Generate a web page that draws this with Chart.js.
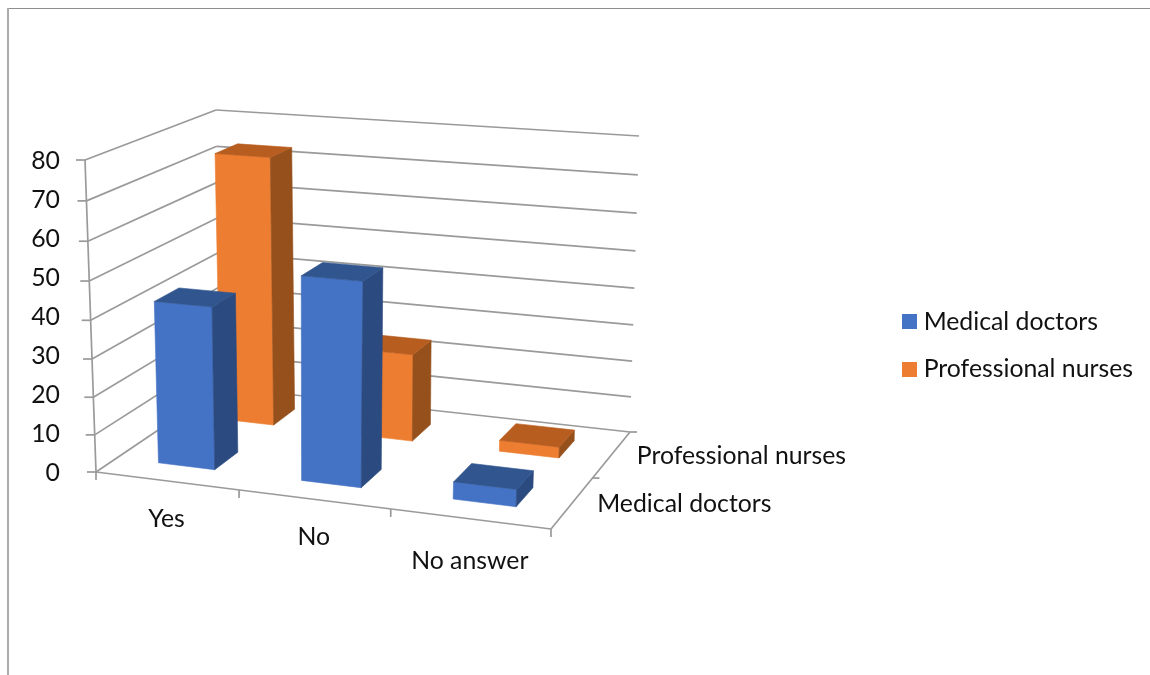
<!DOCTYPE html>
<html>
<head>
<meta charset="utf-8">
<script src="https://cdn.jsdelivr.net/npm/chart.js@4/dist/chart.umd.min.js"></script>
<style>
    html, body { margin: 0; background: #fff; }
    #wrap { width: 1150px; height: 675px; }
</style>
</head>
<body>
<div id="wrap"><canvas id="chart"></canvas></div>
<script>
//chart values
const categories = ["Yes", "No", "No answer"];
const seriesNames = ["Medical doctors", "Professional nurses"];
const doctors = [43, 53, 4.5];
const nurses = [73.5, 24, 3];
const yMax = 80;
const yStep = 10;

//colours: front, side, top
const blueFaces = ["#4472C4", "#2B4A80", "#30558F"];
const orangeFaces = ["#ED7D31", "#96501C", "#B85D20"];
const gridColor = "#9A9A9A";
const textColor = "#111111";
const fontFamily = "Lato";
const fontSize = 24.8;

//corners of the 3d box on screen, a = front left, b = front right, c = back right, d = back left
const floor = {a: [96, 472], b: [551, 529], c: [630, 432], d: [222, 387]};
const rise = {a: [-11, -312], b: [14, -333], c: [9, -296], d: [-6, -277]};
//how far the category labels sit below the floor edge
const labelDrop = [38, 38, 42];

const mix = (p, q, t) => [p[0] + (q[0] - p[0]) * t, p[1] + (q[1] - p[1]) * t];

function blend(box, u, v) {
    return mix(mix(box.a, box.b, u), mix(box.d, box.c, u), v);
}

//u along categories, v into the depth, w up the value axis (all 0 to 1)
function project(u, v, w) {
    //small bend for the perspective of the original
    const pu = u - 0.085 * u * (1 - u);
    const pv = v + 0.1 * v * (1 - v);
    const pw = w - 0.055 * w * (1 - w);
    const base = blend(floor, pu, pv);
    const up = blend(rise, pu, pv);
    return [base[0] + up[0] * pw, base[1] + up[1] * pw];
}

function poly(ctx, pts, color) {
    ctx.fillStyle = color;
    ctx.strokeStyle = color;
    ctx.lineWidth = 0.6;
    ctx.beginPath();
    pts.forEach((p, i) => i ? ctx.lineTo(p[0], p[1]) : ctx.moveTo(p[0], p[1]));
    ctx.closePath();
    ctx.fill();
    ctx.stroke();
}

function line(ctx, p, q) {
    ctx.beginPath();
    ctx.moveTo(p[0], p[1]);
    ctx.lineTo(q[0], q[1]);
    ctx.stroke();
}

function drawBar(ctx, u0, u1, v0, v1, w, faces) {
    const p = project;
    poly(ctx, [p(u0, v0, 0), p(u1, v0, 0), p(u1, v0, w), p(u0, v0, w)], faces[0]);
    poly(ctx, [p(u1, v0, 0), p(u1, v1, 0), p(u1, v1, w), p(u1, v0, w)], faces[1]);
    poly(ctx, [p(u0, v0, w), p(u1, v0, w), p(u1, v1, w), p(u0, v1, w)], faces[2]);
}

//legend square as an image, the default gap to the text is too wide
function swatch(color) {
    const c = document.createElement("canvas");
    c.width = 15;
    c.height = 15;
    const g = c.getContext("2d");
    g.fillStyle = color;
    g.fillRect(0, 0, 15, 15);
    return c;
}

//grey frame of the pasted picture
const framePlugin = {
    id: "frame",
    beforeDraw(chart) {
        const ctx = chart.ctx;
        ctx.save();
        ctx.fillStyle = "#8E8E8E";
        ctx.fillRect(7, 8, chart.width - 7, 1);
        ctx.fillStyle = "#ABABAB";
        ctx.fillRect(7, 8, 2, chart.height - 8);
        ctx.restore();
    }
};

//draws walls, floor, bars and the skewed labels through the scales
const box3dPlugin = {
    id: "box3d",
    afterLayout(chart) {
        chart.legend.top += 28;
        chart.legend.bottom += 28;
    },
    beforeDatasetsDraw(chart) {
        const ctx = chart.ctx;
        const xs = chart.scales.x;
        const ys = chart.scales.y;
        const zs = chart.scales.z;
        const uOf = px => (px - xs.left) / xs.width;
        const vOf = px => (px - zs.top) / zs.height;
        const wOf = px => (ys.bottom - px) / ys.height;
        const uStep = uOf(xs.getPixelForValue(1)) - uOf(xs.getPixelForValue(0));
        const vStep = vOf(zs.getPixelForValue(1)) - vOf(zs.getPixelForValue(0));

        ctx.save();
        ctx.strokeStyle = gridColor;
        ctx.lineWidth = 1.7;

        //walls
        ys.ticks.forEach(t => {
            const w = wOf(ys.getPixelForValue(t.value));
            const front = project(0, 0, w);
            const back = project(0, 1, w);
            line(ctx, front, back);
            line(ctx, back, project(1, 1, w));
            line(ctx, front, [front[0] - 9, front[1]]);
        });
        line(ctx, project(0, 0, 0), project(0, 0, 1));

        //floor edges and ticks
        line(ctx, project(0, 0, 0), project(1, 0, 0));
        line(ctx, project(1, 0, 0), project(1, 1, 0));
        categories.concat("").forEach((c, i) => {
            const p = project(i * uStep, 0, 0);
            line(ctx, p, [p[0], p[1] + 8]);
        });
        [1, 2].forEach(i => {
            const p = project(1, i * vStep, 0);
            line(ctx, p, [p[0] + 7, p[1]]);
        });

        //bars, back row first
        chart.data.datasets.map((d, i) => i).reverse().forEach(di => {
            const meta = chart.getDatasetMeta(di);
            const v = vOf(zs.getPixelForValue(di));
            const hv = vStep * 0.19;
            const faces = di === 0 ? blueFaces : orangeFaces;
            meta.data.forEach((el, i) => {
                const u = uOf(xs.getPixelForValue(i));
                const hu = uStep * 0.2;
                drawBar(ctx, u - hu, u + hu, v - hv, v + hv, wOf(el.y), faces);
            });
        });

        //category and depth labels
        ctx.fillStyle = textColor;
        ctx.font = fontSize + "px " + fontFamily;
        ctx.textBaseline = "middle";
        ctx.textAlign = "center";
        categories.forEach((c, i) => {
            const p = project(uOf(xs.getPixelForValue(i)), 0, 0);
            ctx.fillText(c, p[0], p[1] + labelDrop[i]);
        });
        ctx.textAlign = "left";
        seriesNames.forEach((s, i) => {
            const p = project(1, vOf(zs.getPixelForValue(i)), 0);
            ctx.fillText(s, p[0] + 25, p[1] + 1.5);
        });
        ctx.restore();
        return false;
    }
};

new Chart(document.getElementById("chart"), {
    type: "bar",
    data: {
        labels: categories,
        datasets: [
            {label: seriesNames[0], data: doctors, backgroundColor: blueFaces[0], xAxisID: "x", yAxisID: "y"},
            {label: seriesNames[1], data: nurses, backgroundColor: orangeFaces[0], xAxisID: "x", yAxisID: "y"}
        ]
    },
    plugins: [framePlugin, box3dPlugin],
    options: {
        responsive: true,
        maintainAspectRatio: false,
        animation: false,
        layout: {padding: {left: 28, top: 161.5, bottom: 201.5, right: 7}},
        plugins: {
            tooltip: {enabled: false},
            legend: {
                position: "right",
                labels: {
                    usePointStyle: true,
                    pointStyleWidth: 4.2,
                    boxHeight: 15,
                    padding: 23,
                    color: textColor,
                    font: {family: fontFamily, size: fontSize},
                    generateLabels: chart => Chart.defaults.plugins.legend.labels.generateLabels(chart)
                        .map((item, i) => ({...item, pointStyle: swatch(chart.data.datasets[i].backgroundColor)}))
                }
            }
        },
        scales: {
            x: {display: false},
            z: {type: "category", axis: "y", labels: seriesNames, offset: true, display: false},
            y: {
                min: 0,
                max: yMax,
                afterFit(scale) { scale.width = 48; },
                grid: {display: false},
                border: {display: false},
                ticks: {stepSize: yStep, padding: 8, color: textColor, font: {family: fontFamily, size: fontSize}}
            }
        }
    }
});
</script>
</body>
</html>
